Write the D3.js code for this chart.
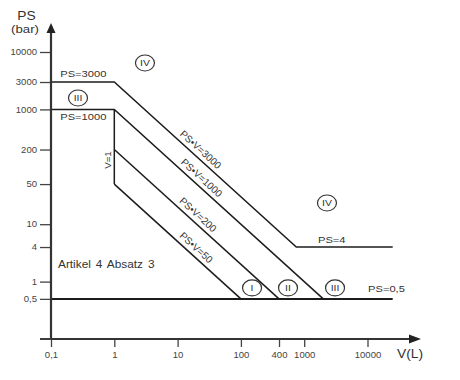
<!DOCTYPE html>
<html><head><meta charset="utf-8">
<script src="https://cdn.jsdelivr.net/npm/d3@7"></script>
<style>
html,body{margin:0;padding:0;background:#fff;}
text{font-family:"Liberation Sans",Arial,sans-serif;fill:#333;}
</style></head>
<body><svg id="c" width="460" height="380"></svg>
<script>
// ---- data ----
const yTicks = [0.5, 1, 4, 10, 50, 200, 1000, 3000, 10000];
const yTickLabels = ["0,5", "1", "4", "10", "50", "200", "1000", "3000", "10000"];
const xTicks = [0.1, 1, 10, 100, 400, 1000, 10000];
const xTickLabels = ["0,1", "1", "10", "100", "400", "1000", "10000"];

// boundary lines [V, PS]
const line3000 = [[0.1, 3000], [1, 3000], [750, 4], [25000, 4]];
const line1000 = [[0.1, 1000], [1, 1000], [2000, 0.5]];
const lineV1 = [[1, 1000], [1, 50]];
const line200 = [[1, 200], [400, 0.5]];
const line50 = [[1, 50], [100, 0.5]];
const line05 = [[0.1, 0.5], [25000, 0.5]];

// horizontal labels: [text, V, PS, dy]
const hLabels = [
  ["PS=3000", 0.14, 3000, -5],
  ["PS=1000", 0.14, 1000, 11],
  ["PS=4", 1650, 4, -4.5],
  ["PS=0,5", 10200, 0.5, -7]
];
// diagonal labels: [text, V, product]
const diagLabels = [
  ["PS•V=3000", 19, 3000],
  ["PS•V=1000", 19.7, 1000],
  ["PS•V=200", 17.3, 200],
  ["PS•V=50", 16.2, 50]
];
// category circles: [numeral, V, PS]
const categories = [
  ["IV", 3.05, 6430],
  ["III", 0.267, 1580],
  ["I", 150, 0.775],
  ["II", 555, 0.775],
  ["III", 3070, 0.775],
  ["IV", 2290, 23.4]
];
const noteText = ["Artikel 4 Absatz 3", 0.129, 1.73];
const v1Label = ["V=1", 0.77, 131];

// ---- scales ----
const x = d3.scaleLog().domain([0.1, 10000]).range([51, 367.5]);
const y = d3.scaleLog().domain([0.1, 10000]).range([339, 52]);
const SX = 1.15;

const svg = d3.select("#c");
const ink = "#1c1c1c";

// lines
const lineGen = d3.line().x(d => x(d[0])).y(d => y(d[1]));
[line3000, line1000, lineV1, line200, line50].forEach(pts => {
  svg.append("path").attr("d", lineGen(pts)).attr("fill", "none")
    .attr("stroke", ink).attr("stroke-width", 1.5);
});
svg.append("path").attr("d", lineGen(line05)).attr("fill", "none")
  .attr("stroke", ink).attr("stroke-width", 2);

// axes
const yAxis = d3.axisLeft(y).tickValues(yTicks).tickFormat((d, i) => yTickLabels[i]).tickSize(11).tickPadding(3);
const gy = svg.append("g").attr("transform", `translate(${x(0.1)},0)`).call(yAxis);
gy.select(".domain").remove();
gy.selectAll(".tick line").attr("stroke", "#444").attr("stroke-width", 1.3);
gy.selectAll(".tick text").each(function () {
  const t = d3.select(this);
  const tx = +t.attr("x");
  t.attr("x", 0).attr("transform", `translate(${tx},0) scale(${SX},1)`)
    .style("font-size", "8.3px").style("fill", "#444").attr("font-family", null);
});

const xAxis = d3.axisBottom(x).tickValues(xTicks).tickFormat((d, i) => xTickLabels[i]).tickSize(8).tickPadding(5);
const gx = svg.append("g").attr("transform", `translate(0,${y(0.1)})`).call(xAxis);
gx.select(".domain").remove();
gx.selectAll(".tick line").attr("stroke", "#444").attr("stroke-width", 1.3);
gx.selectAll(".tick text").each(function () {
  const t = d3.select(this);
  const ty = +t.attr("y");
  t.attr("y", 0).attr("transform", `translate(0,${ty}) scale(${SX},1)`)
    .style("font-size", "8.3px").style("fill", "#444").attr("font-family", null);
});

// axis lines with arrows
const x0 = x(0.1), y0 = y(0.1);
svg.append("line").attr("x1", x0).attr("x2", x0).attr("y1", y0 + 1).attr("y2", 30)
  .attr("stroke", "#333").attr("stroke-width", 2.2);
svg.append("path").attr("d", `M${x0},23 L${x0 - 4.5},33 L${x0 + 4.5},33 Z`).attr("fill", "#222");
svg.append("line").attr("x1", 40).attr("x2", 412).attr("y1", y0).attr("y2", y0)
  .attr("stroke", "#333").attr("stroke-width", 2.2);
svg.append("path").attr("d", `M421,${y0} L409,${y0 - 4.5} L409,${y0 + 4.5} Z`).attr("fill", "#222");
svg.append("line").attr("x1", 40).attr("x2", x0).attr("y1", y0).attr("y2", y0)
  .attr("stroke", "#444").attr("stroke-width", 1.3);

// axis titles
function sText(txt, px, py, size, anchor) {
  return svg.append("text").attr("transform", `translate(${px},${py}) scale(${SX},1)`)
    .attr("text-anchor", anchor || "start").style("font-size", size + "px").text(txt);
}
sText("PS", 26.5, 20, 12, "middle");
sText("(bar)", 25, 33, 11.5, "middle");
sText("V(L)", 410, 358, 12, "middle");

// horizontal labels
hLabels.forEach(d => sText(d[0], x(d[1]), y(d[2]) + d[3], 9.7, "start"));

// note
sText(noteText[0], x(noteText[1]), y(noteText[2]), 10.3, "start").style("word-spacing", "1.5px");

// V=1 label
svg.append("text").attr("transform", `translate(${x(v1Label[1]) + 4},${y(v1Label[2])}) rotate(-90)`)
  .attr("text-anchor", "middle").style("font-size", "9.7px").text(v1Label[0]);

// diagonal labels
const ang = Math.atan2(y(1) - y(10), x(10) - x(1)) * 180 / Math.PI;
diagLabels.forEach(d => {
  const V = d[1], P = d[2] / d[1];
  svg.append("text").attr("transform", `translate(${x(V)},${y(P)}) rotate(${ang})`)
    .attr("text-anchor", "middle").attr("dy", -4.5).style("font-size", "10px").text(d[0]);
});

// category circles
categories.forEach(d => {
  const cx = x(d[1]), cy = y(d[2]);
  svg.append("ellipse").attr("cx", cx).attr("cy", cy).attr("rx", 9.5).attr("ry", 8)
    .attr("fill", "none").attr("stroke", "#333").attr("stroke-width", 1.2);
  svg.append("text").attr("transform", `translate(${cx},${cy + 3.4}) scale(1.1,1)`)
    .attr("text-anchor", "middle").style("font-size", "9.5px")
    .text(d[0]);
});
</script></body></html>
